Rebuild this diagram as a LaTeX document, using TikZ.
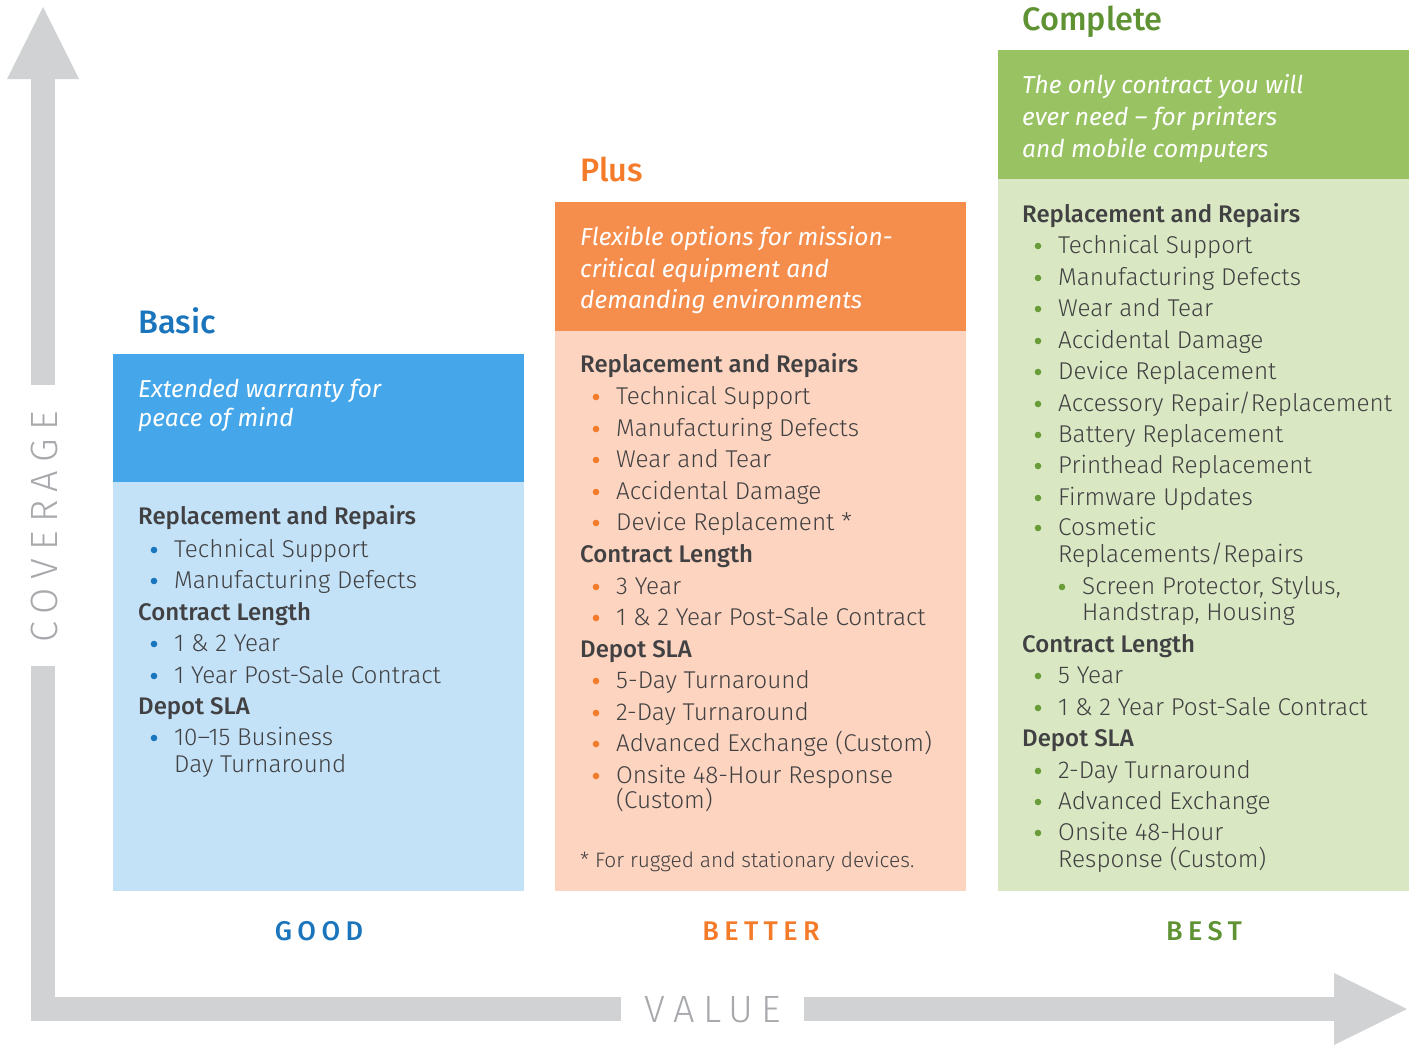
\documentclass[tikz,border=0pt]{standalone}
\usepackage{fontspec}
\setmainfont{Fira Sans}[UprightFont=* Light, BoldFont=* Medium, ItalicFont=* Italic, BoldItalicFont=* Medium Italic]
\newfontfamily\labfont{Fira Sans}[UprightFont=* Medium, LetterSpace=20]
\newfontfamily\axisfont{Fira Sans}[UprightFont=* Light, LetterSpace=22]
\definecolor{grayarrow}{HTML}{D1D2D4}
\definecolor{axistext}{HTML}{A7A9AC}
\definecolor{bodytext}{HTML}{414042}
\definecolor{bluetitle}{HTML}{1B75BC}
\definecolor{bluehead}{HTML}{45A7E9}
\definecolor{bluebody}{HTML}{C3E2F7}
\definecolor{orangetitle}{HTML}{F47B2A}
\definecolor{orangehead}{HTML}{F58E4D}
\definecolor{orangebody}{HTML}{FCD4BF}
\definecolor{greentitle}{HTML}{5E9232}
\definecolor{greenhead}{HTML}{99C262}
\definecolor{greenbody}{HTML}{D9E8C3}
\definecolor{greenbullet}{HTML}{6A9D3A}
\newcommand\bitem[5]{%
  \fill[#4] (#2-20,#3-7) circle (3.3);
  \node[txt] (#1) at (#2,#3) {#5};}
\begin{document}
\begin{tikzpicture}[x=1pt,y=-1pt,
  txt/.style={anchor=base west, inner sep=0pt, text=bodytext, font=\fontsize{24.3}{27}\selectfont},
  hd/.style={txt, font=\fontsize{24}{27}\selectfont\bfseries},
  tagline/.style={txt, text=white, font=\fontsize{24.5}{27}\selectfont\itshape},
  title/.style={anchor=base west, inner sep=0pt, font=\fontsize{32.5}{36}\selectfont\bfseries},
  lab/.style={anchor=base, inner sep=0pt, font=\fontsize{27}{30}\selectfont\labfont},
  axis/.style={inner sep=0pt, text=axistext, font=\fontsize{38}{42}\selectfont\axisfont}]
\useasboundingbox (0,0) rectangle (1416,1044);
% axes
\fill[grayarrow] (7,79) -- (43,7) -- (79,79) -- cycle;
\fill[grayarrow] (31,79) rectangle (55,385);
\fill[grayarrow] (31,666) rectangle (55,1021);
\fill[grayarrow] (31,997) rectangle (621,1021);
\fill[grayarrow] (804,997) rectangle (1335,1021);
\fill[grayarrow] (1334,973) -- (1407,1009) -- (1334,1045) -- cycle;
\node[axis, anchor=base, rotate=90] (cov) at (57,527) {COVERAGE};
\node[axis, anchor=base] (val) at (713,1022) {VALUE};
% boxes
\fill[bluehead] (113,354) rectangle (524,482);
\fill[bluebody] (113,482) rectangle (524,891);
\fill[orangehead] (555,202) rectangle (966,331);
\fill[orangebody] (555,331) rectangle (966,891);
\fill[greenhead] (998,50) rectangle (1409,179);
\fill[greenbody] (998,179) rectangle (1409,891);
% titles
\node[title, text=bluetitle] (tb) at (138,333) {Basic};
\node[title, text=orangetitle] (tp) at (580,181) {Plus};
\node[title, text=greentitle] (tc) at (1022,30) {Complete};
% bottom labels
\node[lab, text=bluetitle] (good) at (319,940) {GOOD};
\node[lab, text=orangetitle] (better) at (761,940) {BETTER};
\node[lab, text=greentitle] (best) at (1204,940) {BEST};
% Basic
\node[tagline] (bt1) at (138,397) {Extended warranty for};
\node[tagline] (bt2) at (138,426) {peace of mind};
\node[hd] (bh1) at (138,524.5) {Replacement and Repairs};
\bitem{b1}{174}{557}{bluetitle}{Technical Support}
\bitem{b2}{174}{588}{bluetitle}{Manufacturing Defects}
\node[hd] (bh2) at (138,620) {Contract Length};
\bitem{b3}{174}{651}{bluetitle}{1 \& 2 Year}
\bitem{b4}{174}{683}{bluetitle}{1 Year Post-Sale Contract}
\node[hd] (bh3) at (138,714) {Depot SLA};
\bitem{b5}{174}{745}{bluetitle}{10–15 Business}
\node[txt] (b5b) at (174,772) {Day Turnaround};
% Plus
\node[tagline] (pt1) at (580,245) {Flexible options for mission-};
\node[tagline] (pt2) at (580,277) {critical equipment and};
\node[tagline] (pt3) at (580,308) {demanding environments};
\node[hd] (ph1) at (580,372) {Replacement and Repairs};
\bitem{p1}{616}{404}{orangetitle}{Technical Support}
\bitem{p2}{616}{436}{orangetitle}{Manufacturing Defects}
\bitem{p3}{616}{467}{orangetitle}{Wear and Tear}
\bitem{p4}{616}{499}{orangetitle}{Accidental Damage}
\bitem{p5}{616}{530}{orangetitle}{Device Replacement *}
\node[hd] (ph2) at (580,562) {Contract Length};
\bitem{p6}{616}{594}{orangetitle}{3 Year}
\bitem{p7}{616}{625}{orangetitle}{1 \& 2 Year Post-Sale Contract}
\node[hd] (ph3) at (580,657) {Depot SLA};
\bitem{p8}{616}{688}{orangetitle}{5-Day Turnaround}
\bitem{p9}{616}{720}{orangetitle}{2-Day Turnaround}
\bitem{p10}{616}{751}{orangetitle}{Advanced Exchange (Custom)}
\bitem{p11}{616}{783}{orangetitle}{Onsite 48-Hour Response}
\node[txt] (p11b) at (616,808) {(Custom)};
\node[txt, font=\fontsize{20.9}{24}\selectfont] (pnote) at (580,867) {* For rugged and stationary devices.};
% Complete
\node[tagline] (ct1) at (1022,93) {The only contract you will};
\node[tagline] (ct2) at (1022,125) {ever need – for printers};
\node[tagline] (ct3) at (1022,157) {and mobile computers};
\node[hd] (ch1) at (1022,222) {Replacement and Repairs};
\bitem{c1}{1058}{253}{greenbullet}{Technical Support}
\bitem{c2}{1058}{285}{greenbullet}{Manufacturing Defects}
\bitem{c3}{1058}{316}{greenbullet}{Wear and Tear}
\bitem{c4}{1058}{348}{greenbullet}{Accidental Damage}
\bitem{c5}{1058}{379}{greenbullet}{Device Replacement}
\bitem{c6}{1058}{411}{greenbullet}{Accessory Repair/Replacement}
\bitem{c7}{1058}{442}{greenbullet}{Battery Replacement}
\bitem{c8}{1058}{473}{greenbullet}{Printhead Replacement}
\bitem{c9}{1058}{505}{greenbullet}{Firmware Updates}
\bitem{c10}{1058}{535}{greenbullet}{Cosmetic}
\node[txt] (c10b) at (1058,562) {Replacements/Repairs};
\bitem{c11}{1082}{594}{greenbullet}{Screen Protector, Stylus,}
\node[txt] (c11b) at (1082,620) {Handstrap, Housing};
\node[hd] (ch2) at (1022,652) {Contract Length};
\bitem{c12}{1058}{683}{greenbullet}{5 Year}
\bitem{c13}{1058}{715}{greenbullet}{1 \& 2 Year Post-Sale Contract}
\node[hd] (ch3) at (1022,746) {Depot SLA};
\bitem{c14}{1058}{778}{greenbullet}{2-Day Turnaround}
\bitem{c15}{1058}{809}{greenbullet}{Advanced Exchange}
\bitem{c16}{1058}{840}{greenbullet}{Onsite 48-Hour}
\node[txt] (c16b) at (1058,867) {Response (Custom)};
\end{tikzpicture}
\end{document}
